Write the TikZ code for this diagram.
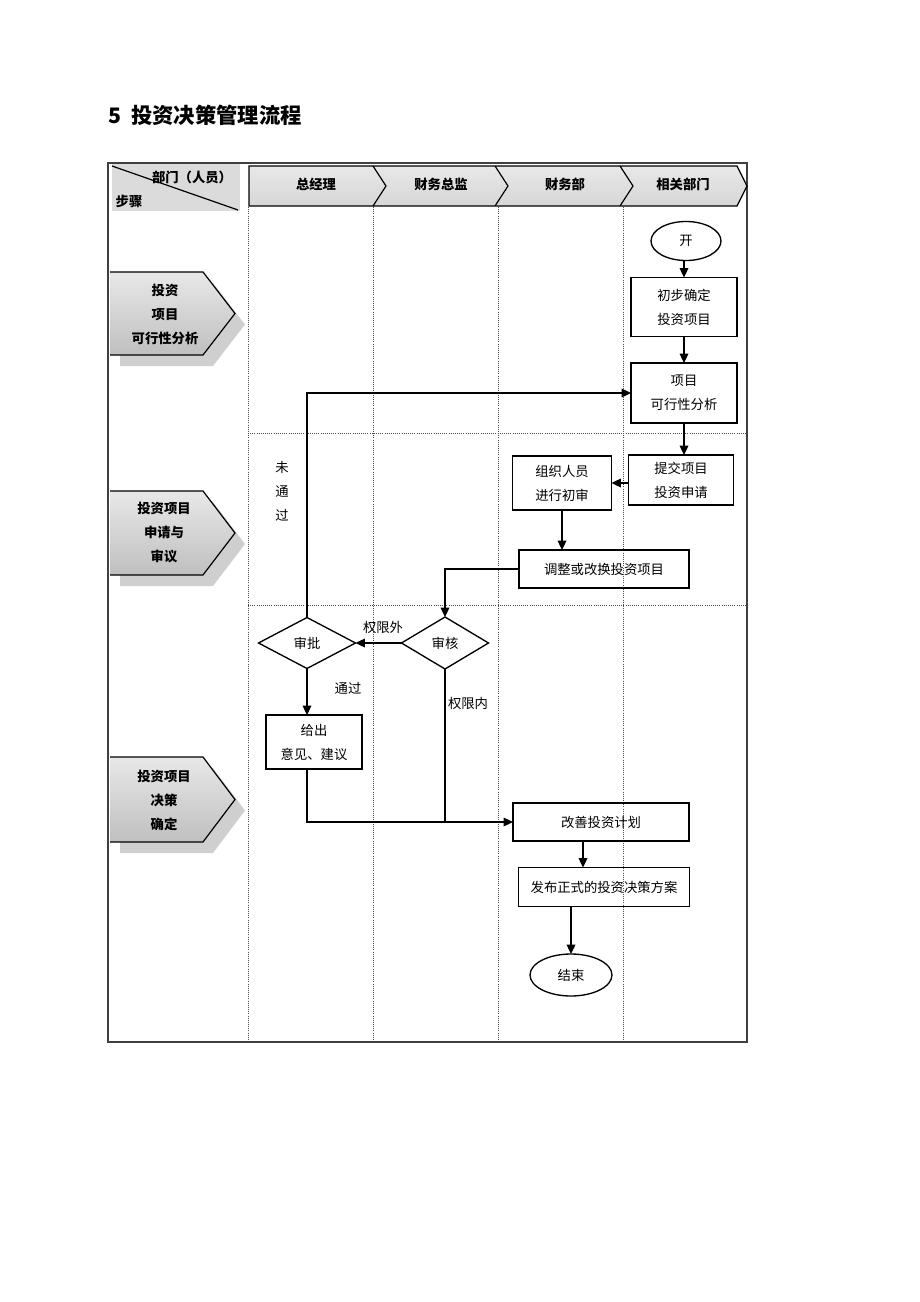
\documentclass[tikz,border=0pt]{standalone}
\usepackage{fontspec}
\setmainfont{Noto Sans CJK SC}
\usetikzlibrary{shapes.geometric,arrows.meta,calc}
\newcommand\nfont{\fontsize{10}{18}\selectfont}
\newcommand\bfont{\fontsize{10}{18}\selectfont\bfseries}
\begin{document}
\begin{tikzpicture}[x=0.75pt,y=-0.75pt,
  box/.style 2 args={draw,line width=1pt,inner sep=0pt,outer sep=0pt,
    minimum width=#1*0.75pt,minimum height=#2*0.75pt,align=center,font=\nfont},
  dia/.style 2 args={draw,line width=1pt,diamond,aspect=1.8,inner sep=0pt,outer sep=0pt,
    minimum width=#1*0.75pt,minimum height=#2*0.75pt,font=\nfont},
  ell/.style 2 args={draw,line width=1pt,ellipse,inner sep=0pt,outer sep=0pt,
    minimum width=#1*0.75pt,minimum height=#2*0.75pt,font=\nfont},
  arr/.style={line width=0.9pt,-{Triangle[length=7pt,width=6.5pt]}},
  ln/.style={line width=0.9pt},
  lane/.style={densely dotted,line width=0.6pt,black!70},
  lbl/.style={font=\nfont,inner sep=0pt},
  hdr/.style={font=\bfont,inner sep=0pt},
  stagetxt/.style={font=\bfont,inner sep=0pt,align=center},
  pentfill/.style={top color=gray!18,middle color=gray!6,bottom color=gray!50},
  shadowfill/.style={fill=gray!38}
]
\useasboundingbox (0,0) rectangle (920,1302);

% title
\node[anchor=west,inner sep=0pt,font=\fontsize{16}{18}\selectfont\bfseries] (title) at (108,115) {5\ \ 投资决策管理流程};

% outer frame
\draw[line width=1pt,black!75] (108,163) rectangle (747,1042);

% header left cell
\fill[gray!28] (112,164) rectangle (240,211);
\draw[line width=0.9pt] (112,166) -- (238,210);
\node[hdr] (dept) at (192,177) {部门（人员）};
\node[hdr] (stepl) at (129,201) {步骤};

% header band
\shade[top color=gray!18,bottom color=gray!32] (249,166) -- (737,166) -- (747,186) -- (737,206) -- (249,206) -- cycle;
\draw[line width=0.9pt] (249,166) -- (737,166) -- (747,186) -- (737,206) -- (249,206) -- cycle;
\draw[line width=0.9pt] (373,166) -- (386,186) -- (373,206);
\draw[line width=0.9pt] (495,166) -- (508,186) -- (495,206);
\draw[line width=0.9pt] (620,166) -- (633,186) -- (620,206);
\node[hdr] (h1) at (316,184) {总经理};
\node[hdr] (h2) at (441,184) {财务总监};
\node[hdr] (h3) at (565,184) {财务部};
\node[hdr] (h4) at (683,184) {相关部门};

% lanes
\foreach \xx in {248,373,498,623} {\draw[lane] (\xx,207) -- (\xx,1042);}
\draw[lane] (248,433) -- (747,433);
\draw[lane] (248,605) -- (747,605);

% stage pentagons
\foreach \yt/\yb/\nm in {272/355/s1,491/575/s2,757/842/s3} {
  \fill[shadowfill] (120,\yt+11) -- (213,\yt+11) -- (245,{(\yt+\yb)/2+11}) -- (213,\yb+11) -- (120,\yb+11) -- cycle;
  \shade[pentfill] (110,\yt) -- (203,\yt) -- (235,{(\yt+\yb)/2}) -- (203,\yb) -- (110,\yb) -- cycle;
  \draw[line width=0.9pt] (110,\yt) -- (203,\yt) -- (235,{(\yt+\yb)/2}) -- (203,\yb) -- (110,\yb);
}
\node[stagetxt] (s1) at (165,314) {投资\\项目\\可行性分析};
\node[stagetxt] (s2) at (164,533) {投资项目\\申请与\\审议};
\node[stagetxt] (s3) at (164,800) {投资项目\\决策\\确定};

% nodes
\node[ell={70}{39}] (start) at (686,241) {开};
\node[box={106}{59}] (chubu) at (684,307) {初步确定\\投资项目};
\node[box={106}{60}] (kexing) at (684,393) {项目\\可行性分析};
\node[box={105}{50}] (tijiao) at (681,480) {提交项目\\投资申请};
\node[box={99}{54}] (zuzhi) at (562,483) {组织人员\\进行初审};
\node[box={170}{38}] (tiaozheng) at (604,569) {调整或改换投资项目};
\node[dia={87}{52}] (shenhe) at (445,643) {审核};
\node[dia={97}{51}] (shenpi) at (307,643) {审批};
\node[box={96}{54}] (geichu) at (314,742) {给出\\意见、建议};
\node[box={176}{38}] (gaishan) at (601,822) {改善投资计划};
\node[box={171}{39}] (fabu) at (604,887) {发布正式的投资决策方案};
\node[ell={82}{42}] (jieshu) at (571,975) {结束};
\coordinate (c583) at (583,0);

% connectors
\draw[arr] (start.south -| chubu.north) -- (chubu.north);
\draw[arr] (chubu.south) -- (kexing.north);
\draw[arr] (kexing.south) -- (kexing.south |- tijiao.north);
\draw[arr] (tijiao.west |- zuzhi.east) -- (zuzhi.east);
\draw[arr] (zuzhi.south) -- (zuzhi.south |- tiaozheng.north);
\draw[arr] (tiaozheng.west) -| (shenhe.north);
\draw[arr] (shenhe.west) -- (shenpi.east);
\draw[arr] (shenpi.north) |- (kexing.west);
\draw[arr] (shenpi.south) -- (shenpi.south |- geichu.north);
\draw[arr] (geichu.south -| shenpi.south) |- (gaishan.west);
\draw[ln] (shenhe.south) -- (shenhe.south |- gaishan.west);
\draw[arr] (gaishan.south -| c583) -- (fabu.north -| c583);
\draw[arr] (fabu.south -| jieshu.north) -- (jieshu.north);

% labels
\node[lbl] (l1) at (383,627) {权限外};
\node[lbl] (l2) at (348,688) {通过};
\node[lbl] (l3) at (468,703) {权限内};
\node[lbl,align=center,font=\fontsize{10}{18}\selectfont] (l4) at (282,491) {未\\通\\过};
\end{tikzpicture}
\end{document}
